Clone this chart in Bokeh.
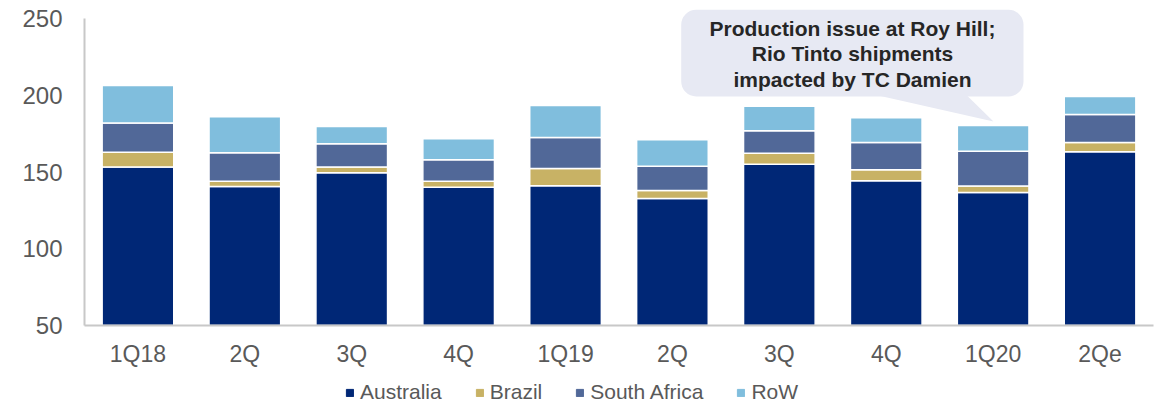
from bokeh.plotting import figure
from bokeh.layouts import column
from bokeh.models import (ColumnDataSource, FixedTicker, BoxAnnotation, Legend, LegendItem)
from bokeh.core.properties import value
from bokeh.embed import file_html
from bokeh.resources import INLINE

quarters = ["1Q18", "2Q", "3Q", "4Q", "1Q19", "2Q", "3Q", "4Q", "1Q20", "2Qe"]
australia = [153.3, 140.7, 149.6, 140.2, 141.1, 132.8, 155.2, 144.4, 136.8, 163.3]
brazil = [9.7, 3.4, 3.7, 3.9, 11.3, 5.3, 7.2, 7.2, 4.1, 6.1]
south_africa = [19.0, 18.5, 15.2, 14.0, 20.2, 15.8, 14.6, 17.8, 22.8, 18.2]
row = [24.5, 23.5, 11.3, 13.7, 20.9, 17.2, 16.0, 16.1, 16.8, 11.8]
series = ["Australia", "Brazil", "South Africa", "RoW"]
y_ticks = [50, 100, 150, 200, 250]
callout_lines = ["Production issue at Roy Hill;", "Rio Tinto shipments", "impacted by TC Damien"]
callout_target = "1Q20"

colors = ["#002776", "#C8B265", "#516898", "#80BEDD"]
FONT = "Liberation Sans"
GREY = "#595959"

xs = list(range(len(quarters)))
source = ColumnDataSource(dict(x=xs, Australia=australia, Brazil=brazil,
                               **{"South Africa": south_africa}, RoW=row))

p = figure(width=1163, height=370, x_range=(-0.5, len(quarters) - 0.5),
           y_range=(50, 258.7), output_backend="svg", toolbar_location=None,
           min_border_left=84, min_border_top=5, min_border_right=10, min_border_bottom=45)
p.outline_line_color = None
p.xgrid.visible = False
p.ygrid.visible = False

p.vbar_stack(series, x="x", width=0.67, source=source, color=colors,
             line_color="white", line_width=1.5)

# axes
p.xaxis.ticker = FixedTicker(ticks=xs)
p.xaxis.major_label_overrides = {i: q for i, q in enumerate(quarters)}
p.yaxis.ticker = FixedTicker(ticks=y_ticks)
p.yaxis.bounds = (50, 250)
for ax in (p.xaxis, p.yaxis):
    ax.axis_line_color = "#C8C8C8"
    ax.axis_line_width = 2
    ax.major_tick_line_color = None
    ax.minor_tick_line_color = None
    ax.major_label_text_font = FONT
    ax.major_label_text_font_size = "23px"
    ax.major_label_text_color = GREY
p.yaxis.major_label_text_font_size = "24px"
p.xaxis.major_label_standoff = 9
p.yaxis.major_label_standoff = 16

# callout
ti = quarters.index(callout_target)
tip_y = australia[ti] + brazil[ti] + south_africa[ti] + row[ti] + 2.6
box = BoxAnnotation(left=5.082, right=8.284, top=255.9, bottom=199.4,
                    fill_color="#E7E9F3", fill_alpha=1, line_color=None, border_radius=15,
                    level="underlay")
p.add_layout(box)
p.patch([6.946, 7.76, ti + 0.003], [199.6, 199.6, tip_y], fill_color="#E7E9F3",
        line_color=None, level="underlay")
p.text(x=[6.684] * 3, y=[243.7, 227.1, 210.5], text=callout_lines,
       text_font=value(FONT), text_font_style="bold", text_font_size="21px",
       text_color="#262626", text_align="center", text_baseline="middle")

# legend strip
pl = figure(width=1163, height=36, output_backend="svg", toolbar_location=None,
            x_axis_location=None, y_axis_location=None, x_range=(0, 1), y_range=(0, 1),
            min_border=0)
pl.outline_line_color = None
pl.xgrid.visible = False
pl.ygrid.visible = False
dummies = [pl.vbar(x=[-100], top=[-100], bottom=[-101], width=0.1, color=c) for c in colors]
legend = Legend(items=[LegendItem(label=s, renderers=[r]) for s, r in zip(series, dummies)],
                orientation="horizontal", location=(261, 2),
                border_line_color=None, background_fill_alpha=0,
                label_text_font=FONT, label_text_font_size="21px", label_text_color=GREY,
                glyph_width=9, glyph_height=9, label_standoff=6, spacing=33,
                padding=0, margin=0)
pl.add_layout(legend)

layout = column(p, pl, spacing=0)
open("out.html", "w").write(file_html(layout, INLINE))
